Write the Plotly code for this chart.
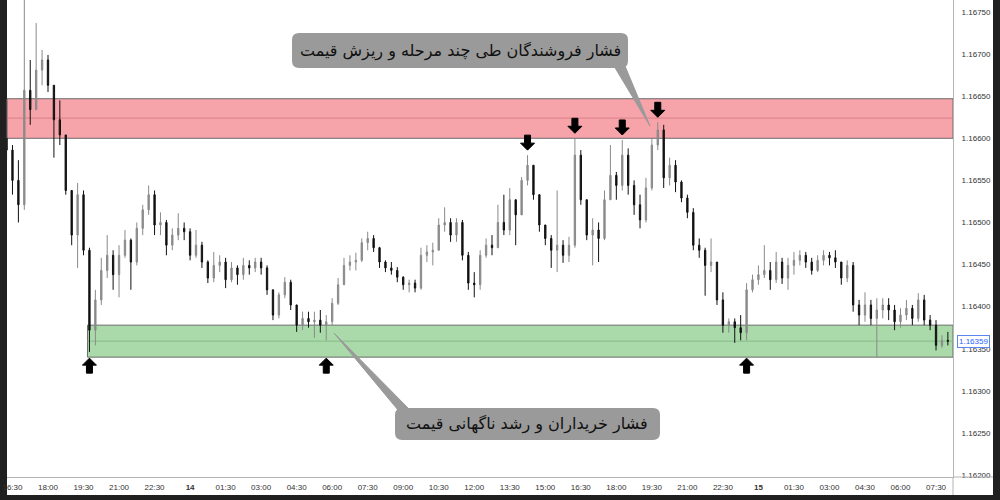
import pandas as pd
import plotly.graph_objects as go

# ---------------- data (EUR/USD, 15-minute candles) ----------------
start_time = "2025-08-13 16:15"
first_open = 1.16600

closes = [
    1.16586, 1.16550, 1.16521, 1.16657, 1.16634, 1.16681, 1.16693, 1.16663, 1.16622, 1.16604,
    1.16538, 1.16485, 1.16533, 1.16467, 1.16372, 1.16408, 1.16443, 1.16461, 1.16438, 1.16461,
    1.16479, 1.16453, 1.16493, 1.16515, 1.16533, 1.16497, 1.16500, 1.16473, 1.16485, 1.16493,
    1.16489, 1.16461, 1.16473, 1.16453, 1.16434, 1.16449, 1.16453, 1.16432, 1.16446, 1.16438,
    1.16449, 1.16446, 1.16453, 1.16446, 1.16420, 1.16390, 1.16414, 1.16429, 1.16402, 1.16378,
    1.16386, 1.16382, 1.16384, 1.16378, 1.16382, 1.16404, 1.16426, 1.16449, 1.16453, 1.16455,
    1.16476, 1.16481, 1.16470, 1.16453, 1.16446, 1.16443, 1.16435, 1.16426, 1.16428, 1.16422,
    1.16461, 1.16465, 1.16467, 1.16497, 1.16500, 1.16485, 1.16500, 1.16461, 1.16428, 1.16426,
    1.16461, 1.16473, 1.16470, 1.16500, 1.16491, 1.16527, 1.16509, 1.16550, 1.16568, 1.16533,
    1.16497, 1.16481, 1.16467, 1.16473, 1.16461, 1.16473, 1.16580, 1.16527, 1.16485, 1.16491,
    1.16481, 1.16527, 1.16556, 1.16544, 1.16580, 1.16544, 1.16521, 1.16503, 1.16541, 1.16592,
    1.16610, 1.16553, 1.16568, 1.16548, 1.16529, 1.16512, 1.16473, 1.16467, 1.16449, 1.16453,
    1.16408, 1.16378, 1.16382, 1.16375, 1.16369, 1.16420, 1.16432, 1.16438, 1.16443, 1.16432,
    1.16453, 1.16434, 1.16449, 1.16455, 1.16461, 1.16453, 1.16443, 1.16455, 1.16461, 1.16458,
    1.16453, 1.16434, 1.16449, 1.16402, 1.16390, 1.16402, 1.16386, 1.16396, 1.16402, 1.16396,
    1.16382, 1.16390, 1.16398, 1.16386, 1.16408, 1.16384, 1.16378, 1.16354, 1.16360, 1.16359,
]

highs = [
    1.16645, 1.16592, 1.16574, 1.16780, 1.16693, 1.16737, 1.16705, 1.16699, 1.16660, 1.16645,
    1.16600, 1.16533, 1.16547, 1.16538, 1.16470, 1.16420, 1.16458, 1.16485, 1.16467, 1.16473,
    1.16491, 1.16481, 1.16500, 1.16521, 1.16544, 1.16538, 1.16512, 1.16503, 1.16493, 1.16511,
    1.16500, 1.16493, 1.16491, 1.16477, 1.16455, 1.16465, 1.16461, 1.16458, 1.16453, 1.16449,
    1.16458, 1.16455, 1.16458, 1.16458, 1.16449, 1.16420, 1.16417, 1.16435, 1.16432, 1.16402,
    1.16394, 1.16394, 1.16394, 1.16396, 1.16390, 1.16410, 1.16434, 1.16458, 1.16461, 1.16464,
    1.16481, 1.16489, 1.16485, 1.16471, 1.16455, 1.16453, 1.16447, 1.16436, 1.16432, 1.16432,
    1.16470, 1.16473, 1.16476, 1.16505, 1.16518, 1.16505, 1.16505, 1.16503, 1.16465, 1.16441,
    1.16467, 1.16481, 1.16485, 1.16521, 1.16533, 1.16541, 1.16521, 1.16554, 1.16580, 1.16568,
    1.16533, 1.16497, 1.16485, 1.16538, 1.16479, 1.16483, 1.16600, 1.16586, 1.16527, 1.16505,
    1.16500, 1.16538, 1.16592, 1.16560, 1.16598, 1.16588, 1.16550, 1.16533, 1.16553, 1.16600,
    1.16619, 1.16616, 1.16577, 1.16574, 1.16550, 1.16533, 1.16517, 1.16481, 1.16470, 1.16481,
    1.16453, 1.16417, 1.16386, 1.16386, 1.16390, 1.16428, 1.16438, 1.16449, 1.16473, 1.16453,
    1.16465, 1.16458, 1.16458, 1.16465, 1.16467, 1.16465, 1.16458, 1.16461, 1.16467, 1.16465,
    1.16467, 1.16453, 1.16455, 1.16453, 1.16408, 1.16417, 1.16408, 1.16410, 1.16410, 1.16410,
    1.16402, 1.16398, 1.16408, 1.16402, 1.16416, 1.16414, 1.16390, 1.16384, 1.16366, 1.16370,
]

lows = [
    1.16574, 1.16533, 1.16500, 1.16515, 1.16616, 1.16645, 1.16663, 1.16655, 1.16577, 1.16592,
    1.16533, 1.16473, 1.16446, 1.16461, 1.16346, 1.16354, 1.16402, 1.16434, 1.16420, 1.16411,
    1.16458, 1.16420, 1.16449, 1.16485, 1.16509, 1.16485, 1.16485, 1.16461, 1.16467, 1.16479,
    1.16479, 1.16455, 1.16458, 1.16446, 1.16428, 1.16429, 1.16441, 1.16422, 1.16429, 1.16426,
    1.16432, 1.16438, 1.16441, 1.16438, 1.16414, 1.16384, 1.16386, 1.16410, 1.16396, 1.16370,
    1.16372, 1.16375, 1.16363, 1.16369, 1.16360, 1.16378, 1.16402, 1.16426, 1.16443, 1.16443,
    1.16453, 1.16467, 1.16465, 1.16446, 1.16441, 1.16438, 1.16429, 1.16420, 1.16417, 1.16417,
    1.16420, 1.16453, 1.16449, 1.16467, 1.16489, 1.16477, 1.16477, 1.16455, 1.16420, 1.16411,
    1.16420, 1.16458, 1.16461, 1.16470, 1.16485, 1.16485, 1.16473, 1.16509, 1.16544, 1.16527,
    1.16489, 1.16473, 1.16446, 1.16441, 1.16452, 1.16453, 1.16470, 1.16521, 1.16479, 1.16449,
    1.16453, 1.16479, 1.16527, 1.16527, 1.16538, 1.16533, 1.16509, 1.16493, 1.16500, 1.16538,
    1.16586, 1.16541, 1.16544, 1.16536, 1.16524, 1.16505, 1.16467, 1.16458, 1.16413, 1.16441,
    1.16402, 1.16369, 1.16369, 1.16357, 1.16360, 1.16360, 1.16417, 1.16426, 1.16434, 1.16420,
    1.16428, 1.16427, 1.16420, 1.16438, 1.16449, 1.16446, 1.16438, 1.16441, 1.16449, 1.16449,
    1.16446, 1.16426, 1.16429, 1.16394, 1.16378, 1.16382, 1.16378, 1.16340, 1.16386, 1.16384,
    1.16372, 1.16375, 1.16384, 1.16378, 1.16382, 1.16378, 1.16372, 1.16348, 1.16351, 1.16354,
]

opens = [first_open] + closes[:-1]

# supply / demand zones
supply_zone = (1.16600, 1.16647)
supply_mid = 1.16624
demand_zone = (1.16340, 1.16378)
demand_mid = 1.16359
demand_start = "2025-08-13 19:40"
last_price = 1.16359

# arrow markers (candle indices)
down_arrow_idx = [88, 96, 104, 110]
up_arrow_idx = [14, 54, 125]

sell_text = "فشار فروشندگان طی چند مرحله و ریزش قیمت"
buy_text = "فشار خریداران و رشد ناگهانی قیمت"

# axis
x_range = ["2025-08-13 16:16:07", "2025-08-15 08:13:00"]
y_range = [1.161976, 1.167643]
tick_start = "2025-08-13 16:30"
y_ticks = [1.16200, 1.16250, 1.16300, 1.16350, 1.16400, 1.16450,
           1.16500, 1.16550, 1.16600, 1.16650, 1.16700, 1.16750]

# ---------------- build ----------------
times = pd.date_range(start_time, periods=len(closes), freq="15min")
hi = [max(h, o, c) for h, o, c in zip(highs, opens, closes)]
lo = [min(l, o, c) for l, o, c in zip(lows, opens, closes)]

tickvals = pd.date_range(tick_start, x_range[1], freq="90min")
ticktext = []
for t in tickvals:
    if t.hour == 0 and t.minute == 0:
        ticktext.append(f"<b>{t.day}</b>")
    else:
        ticktext.append(t.strftime("%H:%M"))

fig = go.Figure()
fig.add_trace(go.Candlestick(
    x=times, open=opens, high=hi, low=lo, close=closes,
    increasing=dict(line=dict(color="#8a8a8a", width=1), fillcolor="#8a8a8a"),
    decreasing=dict(line=dict(color="#111111", width=1), fillcolor="#111111"),
    whiskerwidth=0, showlegend=False, hoverinfo="skip",
))

# plot geometry in pixels (for paper-referenced decorations)
L, R, T, B = 7, 953, 0, 477
PW, PH = R - L, B - T


def px(xp, yp):
    return ((xp - L) / PW, (B - yp) / PH)


def rounded_rect(x0, y0, x1, y1, r):
    def p(a, b):
        u, v = px(a, b)
        return f"{u:.5f},{v:.5f}"
    return (f"M{p(x0 + r, y0)} L{p(x1 - r, y0)} Q{p(x1, y0)} {p(x1, y0 + r)} "
            f"L{p(x1, y1 - r)} Q{p(x1, y1)} {p(x1 - r, y1)} L{p(x0 + r, y1)} "
            f"Q{p(x0, y1)} {p(x0, y1 - r)} L{p(x0, y0 + r)} Q{p(x0, y0)} {p(x0 + r, y0)} Z")


def tri(a, b, c):
    pts = [px(*a), px(*b), px(*c)]
    return "M" + " L".join(f"{u:.5f},{v:.5f}" for u, v in pts) + " Z"


def block_arrow(direction, gap):
    # pixel path relative to anchor; +y is up
    s = 1 if direction == "down" else -1
    pts = [(0, gap), (-7, gap + 7), (-3, gap + 7), (-3, gap + 15),
           (3, gap + 15), (3, gap + 7), (7, gap + 7)]
    return "M" + " L".join(f"{x},{s * y}" for x, y in pts) + " Z"


shapes = []
# white chart canvas over the dark frame
shapes.append(dict(type="rect", xref="paper", yref="paper",
                   x0=0, x1=(993 - L) / PW, y0=(B - 495) / PH, y1=1,
                   fillcolor="white", line=dict(width=0), layer="below"))
# axis line extensions
shapes.append(dict(type="line", xref="paper", yref="paper", x0=1, x1=(993 - L) / PW,
                   y0=0, y1=0, line=dict(color="#b5b5b5", width=1)))
shapes.append(dict(type="line", xref="paper", yref="paper", x0=1, x1=1,
                   y0=(B - 495) / PH, y1=0, line=dict(color="#b5b5b5", width=1)))
# supply zone
shapes.append(dict(type="rect", xref="paper", yref="y", x0=0, x1=1,
                   y0=supply_zone[0], y1=supply_zone[1],
                   fillcolor="rgba(242,120,130,0.68)", line=dict(color="#6b6b6b", width=1),
                   layer="below"))
shapes.append(dict(type="line", xref="paper", yref="y", x0=0, x1=1,
                   y0=supply_mid, y1=supply_mid, line=dict(color="#d98088", width=1),
                   layer="below"))
# demand zone
shapes.append(dict(type="rect", xref="x", yref="y", x0=demand_start, x1=x_range[1],
                   y0=demand_zone[0], y1=demand_zone[1],
                   fillcolor="rgba(130,200,130,0.68)", line=dict(color="#6b6b6b", width=1),
                   layer="below"))
shapes.append(dict(type="line", xref="x", yref="y", x0=demand_start, x1=x_range[1],
                   y0=demand_mid, y1=demand_mid, line=dict(color="#86b886", width=1),
                   layer="below"))
# callout boxes + pointers
box_col = "#9a9a9a"
shapes.append(dict(type="path", xref="paper", yref="paper",
                   path=rounded_rect(292, 33, 628, 68, 7), fillcolor=box_col,
                   line=dict(width=0)))
shapes.append(dict(type="path", xref="paper", yref="paper",
                   path=tri((614, 66), (625, 66), (650, 126)), fillcolor=box_col,
                   line=dict(color=box_col, width=1)))
shapes.append(dict(type="path", xref="paper", yref="paper",
                   path=rounded_rect(395, 408, 660, 440, 7), fillcolor=box_col,
                   line=dict(width=0)))
shapes.append(dict(type="path", xref="paper", yref="paper",
                   path=tri((334, 333), (398, 410), (410, 410)), fillcolor=box_col,
                   line=dict(color=box_col, width=1)))

# block arrows anchored at candle highs / zone low (pixel-sized)
for i in down_arrow_idx:
    shapes.append(dict(type="path", xref="x", yref="y", xsizemode="pixel",
                       ysizemode="pixel", xanchor=times[i], yanchor=hi[i],
                       path=block_arrow("down", 5), fillcolor="#000",
                       line=dict(color="#000", width=1)))
for i in up_arrow_idx:
    shapes.append(dict(type="path", xref="x", yref="y", xsizemode="pixel",
                       ysizemode="pixel", xanchor=times[i],
                       yanchor=min(lo[i], demand_zone[0]),
                       path=block_arrow("up", 1), fillcolor="#000",
                       line=dict(color="#000", width=1)))

annotations = []
tx, ty = px(460, 51)
annotations.append(dict(xref="paper", yref="paper", x=tx, y=ty, text=sell_text,
                        xanchor="center", yanchor="middle", showarrow=False,
                        font=dict(family="DejaVu Sans", size=16, color="#111")))
tx, ty = px(527, 424)
annotations.append(dict(xref="paper", yref="paper", x=tx, y=ty, text=buy_text,
                        xanchor="center", yanchor="middle", showarrow=False,
                        font=dict(family="DejaVu Sans", size=16, color="#111")))

annotations.append(dict(xref="paper", yref="y", x=1, y=last_price, xanchor="left",
                        yanchor="middle", xshift=4, text=f"{last_price:.5f}",
                        showarrow=False,
                        font=dict(family="Liberation Sans", size=8, color="#2962ff"),
                        bgcolor="white", bordercolor="#5b86f0", borderwidth=1, borderpad=1))

fig.update_layout(
    width=1000, height=500,
    margin=dict(l=L, r=1000 - R, t=T, b=500 - B),
    paper_bgcolor="#202020", plot_bgcolor="white", boxgap=0.68,
    shapes=shapes, annotations=annotations, showlegend=False,
    xaxis=dict(range=x_range, rangeslider=dict(visible=False), showgrid=False,
               zeroline=False, showline=True, linecolor="#b5b5b5", linewidth=1,
               tickvals=tickvals, ticktext=ticktext, ticks="", ticklabelstandoff=2,
               tickfont=dict(family="Liberation Sans", size=8, color="#333")),
    yaxis=dict(range=y_range, side="right", showgrid=False, zeroline=False,
               showline=True, linecolor="#b5b5b5", linewidth=1, tickvals=y_ticks,
               tickformat=".5f", ticks="", ticklabelstandoff=6,
               tickfont=dict(family="Liberation Sans", size=8, color="#333")),
)

fig.write_html("out.html", config={"displayModeBar": False},
               post_script="document.body.style.margin='0';document.body.style.overflow='hidden';")
